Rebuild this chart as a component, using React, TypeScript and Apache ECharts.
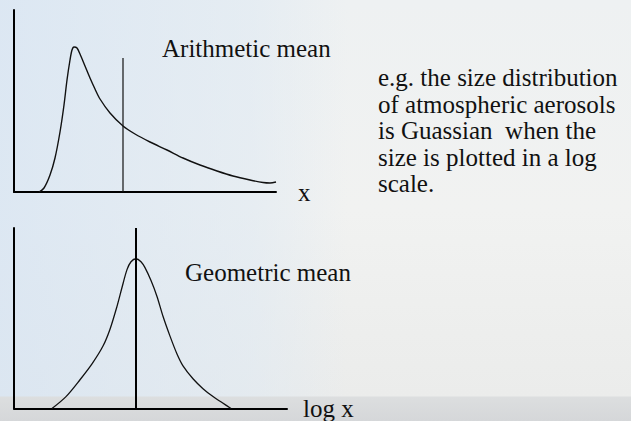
import React, { useEffect, useRef } from "react";
import * as echarts from "echarts";

// Top panel: skewed (log-normal looking) distribution on a linear x scale
const topCurveX = [25, 30, 36, 41, 46, 50, 53, 56, 58, 60, 63, 66, 71, 76, 81, 86, 96, 109, 121, 136, 153, 169, 186, 203, 219, 236, 249, 256, 262];
const topCurveY = [0, 4, 17, 34, 60, 87, 112, 132, 142, 145, 144, 138, 126, 114, 103, 93, 79, 66, 58, 50, 42, 34, 27, 21, 16, 12, 9.5, 9, 10];
const arithmeticMeanX = 109;
const arithmeticMeanTop = 134;

// Bottom panel: Gaussian on a log x scale
const bottomCurveX = [38, 52, 66, 78, 89, 96, 103, 108, 113, 117, 122, 127, 131, 137, 143, 149, 156, 163, 169, 179, 189, 199, 208, 217];
const bottomCurveY = [0, 12, 29, 45, 63, 80, 103, 122, 140, 148, 151, 148, 142, 129, 113, 93, 73, 55, 43, 30, 20, 12, 6, 0];
const geometricMeanX = 122;
const geometricMeanTop = 182;

const topAxisName = "x";
const bottomAxisName = "log x";
const topLabel = "Arithmetic mean";
const bottomLabel = "Geometric mean";
const noteLines = [
  "e.g. the size distribution",
  "of atmospheric aerosols",
  "is Guassian  when the",
  "size is plotted in a log",
  "scale.",
];

const SERIF = "Liberation Serif";
const NOTE_FONT = "Times New Roman, serif";
const INK = "#111111";
const FS = 25;

export default function App() {
  const ref = useRef<HTMLDivElement>(null);

  useEffect(() => {
    if (!ref.current) return;
    const chart = echarts.init(ref.current, undefined, { renderer: "svg" });

    const axisLine = { show: true, onZero: false, lineStyle: { color: "#000", width: 2 } };
    const hidden = {
      axisTick: { show: false },
      axisLabel: { show: false },
      splitLine: { show: false },
    };
    const nameStyle = { fontFamily: SERIF, fontSize: FS, color: INK };
    const textStyle = (text: string, family: string) => ({
      text,
      fontFamily: family,
      fontSize: FS,
      fill: INK,
      verticalAlign: "middle",
      align: "left",
    });

    const topData = topCurveX.map((x, i) => [x, topCurveY[i]]);
    const bottomData = bottomCurveX.map((x, i) => [x, bottomCurveY[i]]);

    chart.setOption({
      animation: false,
      backgroundColor: "transparent",
      textStyle: { fontFamily: SERIF },
      grid: [
        { left: 14, top: 10, width: 262, height: 182 },
        { left: 14, top: 228, width: 273, height: 182 },
      ],
      xAxis: [
        {
          type: "value", gridIndex: 0, min: 0, max: 262,
          axisLine, ...hidden,
          name: topAxisName, nameLocation: "end", nameGap: 22, nameTextStyle: nameStyle,
        },
        {
          type: "value", gridIndex: 1, min: 0, max: 273,
          axisLine, ...hidden,
          name: bottomAxisName, nameLocation: "end", nameGap: 16, nameTextStyle: nameStyle,
        },
      ],
      yAxis: [
        { type: "value", gridIndex: 0, min: 0, max: 182, axisLine, ...hidden },
        { type: "value", gridIndex: 1, min: 0, max: 182, axisLine, ...hidden },
      ],
      series: [
        {
          type: "line", xAxisIndex: 0, yAxisIndex: 0, data: topData,
          smooth: 0.3, showSymbol: false, silent: true,
          lineStyle: { color: INK, width: 1.4 },
        },
        {
          type: "line", xAxisIndex: 0, yAxisIndex: 0,
          data: [[arithmeticMeanX, 0], [arithmeticMeanX, arithmeticMeanTop]],
          showSymbol: false, silent: true,
          lineStyle: { color: INK, width: 1.2 },
        },
        {
          type: "line", xAxisIndex: 1, yAxisIndex: 1, data: bottomData,
          smooth: 0.3, showSymbol: false, silent: true,
          lineStyle: { color: INK, width: 1.3 },
        },
        {
          type: "line", xAxisIndex: 1, yAxisIndex: 1,
          data: [[geometricMeanX, 0], [geometricMeanX, geometricMeanTop]],
          showSymbol: false, silent: true,
          lineStyle: { color: "#000", width: 2 },
        },
      ],
      graphic: [
        { type: "text", x: 162, y: 48.5, style: textStyle(topLabel, SERIF) },
        { type: "text", x: 185, y: 272, style: textStyle(bottomLabel, SERIF) },
        ...noteLines.map((line, i) => ({
          type: "text",
          x: 378,
          y: 77.5 + i * 26.6,
          style: textStyle(line, NOTE_FONT),
        })),
      ],
    });

    return () => chart.dispose();
  }, []);

  return (
    <div
      style={{
        position: "fixed",
        left: 0,
        top: 0,
        width: 631,
        height: 421,
        background:
          "linear-gradient(to bottom, rgba(0,0,0,0) 0px, rgba(0,0,0,0) 396px, #dcdedf 397px, #d5d7d9 421px)," +
          "linear-gradient(to right, rgba(214,228,243,0.75) 0%, rgba(222,233,243,0.55) 40%, rgba(240,241,240,0) 55%)," +
          "linear-gradient(to bottom, #eef1f2 0%, #f1f2f1 50%, #ebeceb 94%)",
      }}
    >
      <div ref={ref} style={{ width: 631, height: 421 }} />
    </div>
  );
}
